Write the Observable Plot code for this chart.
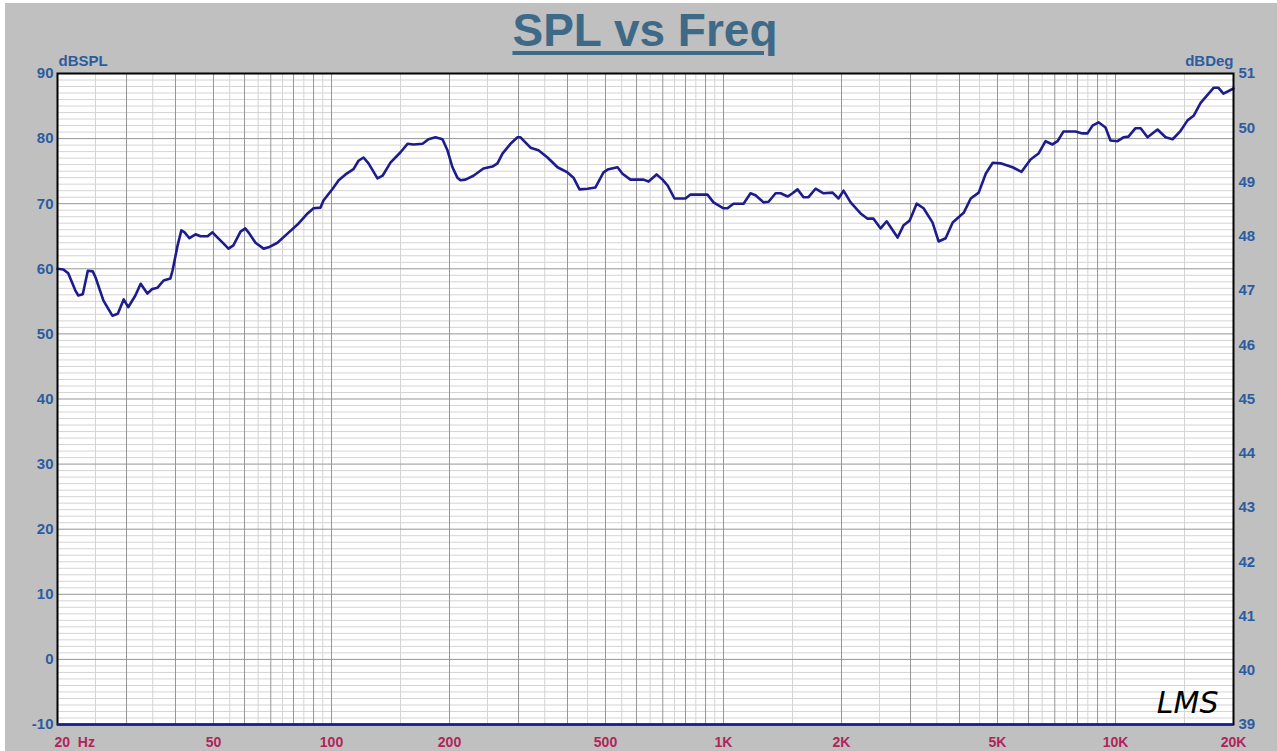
<!DOCTYPE html>
<html><head><meta charset="utf-8">
<script src="https://cdn.jsdelivr.net/npm/d3@7"></script>
<script src="https://cdn.jsdelivr.net/npm/@observablehq/plot@0.6"></script>
<style>
html,body{margin:0;padding:0;background:#c0c0c0;width:1277px;height:751px;overflow:hidden;font-family:"Liberation Sans",Arial,sans-serif;position:relative;}
#title{height:51px;padding-top:5px;padding-left:57px;width:1176px;text-align:center;font-size:46px;font-weight:bold;line-height:50px;color:#3e6a87;}
#title span{text-decoration:underline;text-decoration-thickness:4px;text-underline-offset:5px;}
#chart svg{display:block;overflow:visible}
.edgeL{position:absolute;left:0;top:0;width:5px;height:751px;background:#fff;}
.edgeT{position:absolute;left:0;top:0;width:1277px;height:3px;background:#fff;}
</style></head><body>
<div id="title"><span>SPL vs Freq</span></div>
<div id="chart"></div>
<div class="edgeL"></div><div class="edgeT"></div>
<script>
const freqHz = [20,20.7,21.3,22.2,22.6,23.2,23.9,24.6,25.0,26.2,27.6,28.5,29.5,30.3,31.6,32.6,33.9,34.9,36.0,37.3,38.8,39.3,40.5,41.4,42.2,43.4,45.0,46.3,48.3,49.7,51.2,53.0,54.6,56.2,58.6,60.3,61.4,64.0,67.1,69.1,72.8,77.2,81.9,86.9,90.0,93.8,95.4,100.7,104.3,108.6,113.8,117.2,120.7,124.3,131.0,135.0,141.4,150.0,156.3,161.9,170.7,176.8,184.2,191.9,197.6,203.5,209.5,213.3,219.6,230.2,244.1,257.4,265.1,273.0,286.2,298.2,303.5,321.9,337.3,355.7,377.2,400.0,414.3,429.2,449.8,471.4,494.2,508.9,536.6,552.5,578.9,625.2,643.8,675.0,699.1,720.0,749.9,799.9,823.8,910.1,943.0,1000,1024,1060,1125,1172,1207,1265,1303,1358,1399,1457,1500,1545,1600,1648,1717,1800,1898,1965,2024,2110,2237,2331,2414,2517,2607,2781,2881,2984,3110,3239,3415,3538,3687,3843,4099,4273,4478,4666,4862,5093,5462,5759,6071,6362,6630,6909,7114,7369,7905,8238,8484,8737,9050,9431,9711,10120,10480,10790,11250,11590,12070,12800,13420,13990,14660,15270,15820,16490,17280,17790,18310,18850,20000];
const splDb = [60.0,59.9,59.3,56.7,55.9,56.1,59.7,59.6,58.7,55.1,52.8,53.1,55.3,54.1,55.9,57.7,56.2,56.9,57.1,58.2,58.5,59.7,63.6,65.9,65.6,64.7,65.3,65.0,65.0,65.6,64.8,63.9,63.1,63.6,65.7,66.2,65.6,64.0,63.1,63.3,64.0,65.4,66.8,68.5,69.3,69.4,70.5,72.3,73.6,74.5,75.3,76.6,77.1,76.2,73.9,74.3,76.3,77.9,79.2,79.1,79.2,79.9,80.2,79.9,78.2,75.6,74.0,73.6,73.7,74.3,75.4,75.7,76.2,77.7,79.2,80.2,80.2,78.6,78.2,77.1,75.6,74.8,74.0,72.2,72.3,72.5,74.8,75.3,75.6,74.6,73.7,73.7,73.4,74.5,73.7,72.8,70.8,70.8,71.4,71.4,70.2,69.3,69.3,70.0,70.0,71.6,71.3,70.2,70.3,71.6,71.6,71.1,71.6,72.2,71.0,71.0,72.3,71.6,71.7,70.8,72.0,70.2,68.5,67.7,67.7,66.2,67.3,64.8,66.7,67.4,70.0,69.3,67.1,64.2,64.7,67.1,68.6,70.8,71.7,74.6,76.3,76.2,75.6,74.9,76.8,77.7,79.6,79.1,79.6,81.1,81.1,80.8,80.8,82.0,82.5,81.7,79.7,79.6,80.2,80.3,81.6,81.6,80.2,81.4,80.2,79.9,81.2,82.8,83.5,85.5,86.9,87.8,87.8,86.9,87.7];
const yTicks = [-10,0,10,20,30,40,50,60,70,80,90];
const degTicks = [39,40,41,42,43,44,45,46,47,48,49,50,51];
const xTickValues = [20,50,100,200,500,1000,2000,5000,10000,20000];
const xTickLabels = ["20\u00a0\u00a0Hz","50","100","200","500","1K","2K","5K","10K","20K"];
const decades = [10,100,1000,10000];
const majorMantissa = [1,2,3,4,5,6,7,8,9];
const minorMantissa = [1.5,2.5,3.5,4.5,5.5,6.5,7.5,8.5,9.5];

const inRange = f => f >= 20 && f <= 20000;
const majorX = decades.flatMap(d => majorMantissa.map(m => m * d)).filter(inRange);
const minorX = decades.flatMap(d => minorMantissa.map(m => m * d)).filter(inRange);
const minorY = d3.range(-10, 91, 1).filter(v => v % 10 !== 0);
const degToDb = d => -10 + (d - 39) * 100 / 12;
const data = freqHz.map((f, i) => ({f, db: splDb[i]}));

const blue = "#2c5c9f", crimson = "#b0245a", curve = "#1c1c8c";
const font = "Liberation Sans, Arial, sans-serif";

const plot = Plot.plot({
  width: 1277, height: 695,
  marginLeft: 57, marginRight: 44, marginTop: 17, marginBottom: 27,
  style: {background: "transparent", fontFamily: font, overflow: "visible"},
  x: {type: "log", domain: [20, 20000], axis: null},
  y: {domain: [-10, 90], axis: null},
  marks: [
    Plot.frame({fill: "white", stroke: null}),
    Plot.ruleY(minorY, {stroke: "#d4d4d4", strokeWidth: 1}),
    Plot.ruleX(minorX, {stroke: "#d4d4d4", strokeWidth: 1}),
    Plot.ruleY(yTicks, {stroke: "#969696", strokeWidth: 1}),
    Plot.ruleX(majorX, {stroke: "#969696", strokeWidth: 1}),
    Plot.line(data, {x: "f", y: "db", stroke: curve, strokeWidth: 2.6, strokeLinejoin: "round", strokeLinecap: "round"}),
    Plot.frame({stroke: "black", strokeWidth: 2}),
    Plot.ruleY([-10], {stroke: curve, strokeWidth: 2.5}),
    Plot.text(yTicks, {y: d => d, text: d => String(d), frameAnchor: "left", lineAnchor: "middle", dx: -4, textAnchor: "end", fill: blue, fontSize: 15, fontWeight: "bold"}),
    Plot.text(degTicks, {y: degToDb, text: d => String(d), frameAnchor: "right", lineAnchor: "middle", dx: 5, textAnchor: "start", fill: blue, fontSize: 15, fontWeight: "bold"}),
    Plot.text(["dBSPL"], {text: d => d, frameAnchor: "top-left", lineAnchor: "middle", dx: 1, dy: -12, textAnchor: "start", fill: blue, fontSize: 15, fontWeight: "bold"}),
    Plot.text(["dBDeg"], {text: d => d, frameAnchor: "top-right", lineAnchor: "middle", dy: -12, textAnchor: "end", fill: blue, fontSize: 15, fontWeight: "bold"}),
    Plot.text(xTickValues.slice(1), {x: d => d, text: (d, i) => xTickLabels[i + 1], frameAnchor: "bottom", lineAnchor: "middle", dy: 18, fill: crimson, fontSize: 14, fontWeight: "bold"}),
    Plot.text(xTickValues.slice(0, 1), {x: d => d, text: () => xTickLabels[0], frameAnchor: "bottom", lineAnchor: "middle", dy: 18, dx: -3, textAnchor: "start", fill: crimson, fontSize: 14, fontWeight: "bold"}),
    Plot.text(["LMS"], {text: d => d, frameAnchor: "bottom-right", dx: -15, dy: -12, textAnchor: "end", lineAnchor: "bottom", fontStyle: "italic", fontSize: 30, fill: "black", fontFamily: "DejaVu Sans", letterSpacing: "-3px"})
  ]
});
document.getElementById("chart").appendChild(plot);
</script>
</body></html>
